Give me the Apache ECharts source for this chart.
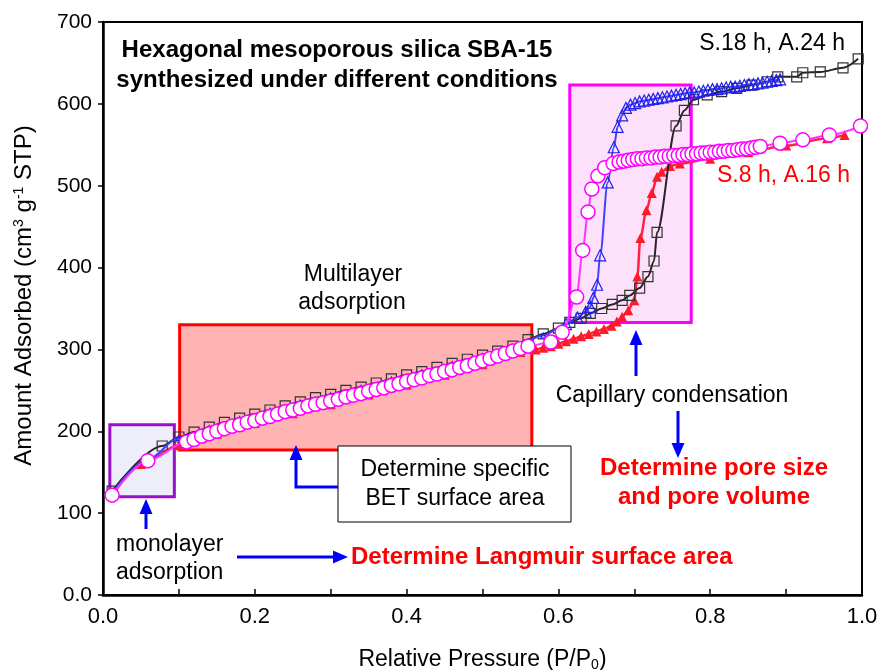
<!DOCTYPE html>
<html><head><meta charset="utf-8">
<script src="https://cdn.jsdelivr.net/npm/echarts@6/dist/echarts.min.js"></script>
<style>html,body{margin:0;padding:0;background:#fff}#c{width:887px;height:670px}</style>
</head><body><div id="c"></div>
<script>
// ---- Data (x = P/P0, y = cm3/g STP) ----
const s18Adsorption = [[0.012,127],[0.078,182],[0.10,193],[0.12,199],[0.14,205],[0.16,211],[0.18,216],[0.20,221],[0.22,226],[0.24,231],[0.26,236],[0.28,241],[0.30,245],[0.32,250],[0.34,254],[0.36,259],[0.38,264],[0.40,269],[0.42,273],[0.44,278],[0.46,283],[0.48,288],[0.50,293],[0.52,298],[0.54,304],[0.56,312],[0.58,319],[0.60,326],[0.615,333],[0.63,338],[0.642,344],[0.657,350],[0.671,355],[0.684,360],[0.694,366],[0.707,375],[0.718,389],[0.726,408],[0.730,443],[0.755,573],[0.766,592],[0.778,605],[0.796,611],[0.815,615],[0.835,619],[0.855,623],[0.875,627],[0.889,633],[0.914,633],[0.922,638],[0.945,639],[0.975,644],[0.995,655]];
const s18Desorption = [[0.012,125],[0.06,166],[0.10,192],[0.14,204],[0.18,215],[0.22,225],[0.26,235],[0.30,244],[0.34,253],[0.38,263],[0.42,272],[0.46,282],[0.50,292],[0.54,303],[0.58,317],[0.61,331],[0.625,339],[0.636,346],[0.642,352],[0.646,363],[0.651,379],[0.655,415],[0.665,504],[0.673,547],[0.678,572],[0.684,586],[0.689,595],[0.695,599],[0.701,601],[0.707,603],[0.713,604],[0.719,605],[0.725,606],[0.731,607],[0.737,608],[0.743,609],[0.749,610],[0.755,611],[0.761,612],[0.767,613],[0.773,614],[0.779,614],[0.785,615],[0.791,616],[0.797,617],[0.803,618],[0.809,618],[0.815,619],[0.821,620],[0.827,621],[0.833,621],[0.839,622],[0.845,623],[0.851,624],[0.857,624],[0.863,625],[0.869,626],[0.875,627],[0.881,628],[0.887,629],[0.892,630]];
const s8Desorption = [[0.012,122],[0.059,164],[0.11,187],[0.12,190],[0.13,194],[0.14,197],[0.15,200],[0.16,203],[0.17,206],[0.18,208],[0.19,211],[0.20,213],[0.21,216],[0.22,218],[0.23,221],[0.24,224],[0.25,226],[0.26,228],[0.27,231],[0.28,233],[0.29,235],[0.30,237],[0.31,239],[0.32,242],[0.33,244],[0.34,246],[0.35,249],[0.36,251],[0.37,253],[0.38,256],[0.39,258],[0.40,261],[0.41,263],[0.42,265],[0.43,268],[0.44,270],[0.45,273],[0.46,275],[0.47,278],[0.48,280],[0.49,283],[0.50,286],[0.51,289],[0.52,292],[0.53,295],[0.54,298],[0.55,301],[0.56,304],[0.59,309],[0.605,321],[0.624,364],[0.632,421],[0.639,468],[0.644,496],[0.652,512],[0.661,522],[0.672,527],[0.680,529],[0.686,530],[0.692,531],[0.698,532],[0.704,533],[0.710,533],[0.716,534],[0.722,534],[0.728,535],[0.734,535],[0.740,536],[0.746,536],[0.752,537],[0.758,537],[0.764,538],[0.770,538],[0.776,539],[0.782,539],[0.788,540],[0.794,540],[0.800,541],[0.806,541],[0.812,542],[0.818,542],[0.824,543],[0.830,543],[0.836,544],[0.842,545],[0.848,545],[0.854,546],[0.860,547],[0.866,548],[0.892,552],[0.922,556],[0.957,562],[0.998,573]];
const s8Adsorption = [[0.012,121],[0.05,160],[0.10,183],[0.15,197],[0.20,210],[0.25,222],[0.30,233],[0.35,245],[0.40,257],[0.45,269],[0.50,282],[0.55,297],[0.57,300],[0.58,302],[0.59,304],[0.60,307],[0.61,310],[0.62,313],[0.63,316],[0.64,319],[0.65,322],[0.66,325],[0.67,329],[0.677,334],[0.684,340],[0.692,348],[0.700,360],[0.704,389],[0.708,436],[0.716,470],[0.723,491],[0.730,511],[0.736,517],[0.747,524],[0.76,527],[0.80,533],[0.85,541],[0.90,549],[0.954,558],[0.977,562]];
const yTicks = [0, 100, 200, 300, 400, 500, 600, 700];
const xTicks = [0, 0.2, 0.4, 0.6, 0.8, 1.0];
// annotation regions [x1, y1, x2, y2] in data units
const monolayerBox = [0.009, 120, 0.094, 208];
const multilayerBox = [0.101, 177, 0.565, 330];
const capillaryBox = [0.615, 333, 0.775, 623];

const FONT = '"Liberation Sans", Arial, sans-serif';
const chart = echarts.init(document.getElementById('c'), null, {renderer: 'canvas'});

function arrowHead(tx, ty, dir) {
  const L = 15, W = 6.5; let pts;
  if (dir === 'up') pts = [[tx, ty], [tx - W, ty + L], [tx + W, ty + L]];
  else if (dir === 'down') pts = [[tx, ty], [tx - W, ty - L], [tx + W, ty - L]];
  else pts = [[tx, ty], [tx - L, ty - W], [tx - L, ty + W]];
  return {type: 'polygon', z: 100, shape: {points: pts}, style: {fill: '#0000ff'}};
}
function seg(x1, y1, x2, y2) {
  return {type: 'line', z: 100, shape: {x1, y1, x2, y2}, style: {stroke: '#0000ff', lineWidth: 3}};
}
function txt(text, x, y, opts) {
  opts = opts || {};
  return {type: 'text', z: 101, style: Object.assign({
    text, x, y, fill: opts.fill || '#000',
    font: (opts.bold ? 'bold ' : '') + (opts.size || 23) + 'px ' + FONT,
    align: opts.align || 'center', textAlign: opts.align || 'center',
    verticalAlign: 'middle', textVerticalAlign: 'middle'
  })};
}
function area(b, fill, border) {
  return [{xAxis: b[0], yAxis: b[1], itemStyle: {color: fill, borderColor: border, borderWidth: 3}}, {xAxis: b[2], yAxis: b[3]}];
}

const option = {
  animation: false,
  backgroundColor: '#fff',
  grid: {left: 103, right: 25, top: 22, bottom: 75, containLabel: false, outerBoundsMode: 'none',
    show: true, borderColor: '#000', borderWidth: 2, backgroundColor: 'transparent'},
  xAxis: {
    type: 'value', min: 0, max: 1, interval: 0.1,
    name: 'Relative Pressure (P/P{sub|0})', nameLocation: 'middle', nameGap: 53,
    nameTextStyle: {fontFamily: FONT, fontSize: 23, color: '#000', rich: {sub: {fontFamily: FONT, fontSize: 14, color: '#000', padding: [10, 0, 0, 0]}}},
    axisLine: {lineStyle: {color: '#000', width: 2.5}},
    axisTick: {inside: true, length: 6, lineStyle: {color: '#000', width: 1.5}},
    splitLine: {show: false},
    axisLabel: {fontFamily: FONT, fontSize: 22, color: '#000', margin: 11,
      formatter: v => { const k = Math.round(v * 10); return xTicks.some(t => Math.round(t * 10) === k) ? (k / 10).toFixed(1) : ''; }}
  },
  yAxis: {
    type: 'value', min: 0, max: 700, interval: 100,
    name: 'Amount Adsorbed (cm{sup|3} g{sup|-1} STP)', nameLocation: 'middle', nameGap: 66, nameRotate: 90,
    nameTextStyle: {fontFamily: FONT, fontSize: 24, color: '#000', padding: [0, 0, 0, 26], rich: {sup: {fontFamily: FONT, fontSize: 14, color: '#000', padding: [0, 0, 11, 0]}}},
    axisLine: {show: true, lineStyle: {color: '#000', width: 2.5}},
    axisTick: {show: true, inside: false, length: 5, lineStyle: {color: '#000', width: 1.5}},
    splitLine: {show: false},
    axisLabel: {fontFamily: FONT, fontSize: 21, color: '#000', margin: 11,
      formatter: v => yTicks.includes(v) ? (v === 0 ? '0.0' : String(v)) : ''}
  },
  series: [
    {type: 'line', data: [], z: 1, silent: true,
      markArea: {silent: true, label: {show: false}, data: [
        area(monolayerBox, '#eeeefb', '#9a10c8'),
        area(multilayerBox, '#ffb3b3', '#ff0000'),
        area(capillaryBox, 'rgba(250,170,240,0.35)', '#ff00ff')
      ]}},
    {type: 'line', name: 'S.8 h, A.16 h adsorption', data: s8Adsorption, z: 3, showAllSymbol: true,
      smooth: 0.3, smoothMonotone: 'x', symbol: 'triangle', symbolSize: 10,
      lineStyle: {color: '#ff2244', width: 2.5}, itemStyle: {color: '#ff1a2a', borderColor: '#ff1a2a', borderWidth: 0}},
    {type: 'line', name: 'S.18 h, A.24 h adsorption', data: s18Adsorption, z: 4, showAllSymbol: true,
      smooth: 0.3, smoothMonotone: 'x', symbol: 'rect', symbolSize: 10,
      lineStyle: {color: '#2b2129', width: 2}, itemStyle: {color: 'rgba(255,255,255,0)', borderColor: '#333', borderWidth: 1.2}},
    {type: 'line', name: 'S.18 h, A.24 h desorption', data: s18Desorption, z: 5, showAllSymbol: true,
      smooth: 0.3, smoothMonotone: 'x', symbol: 'triangle', symbolSize: v => v[0] < 0.6 ? 5 : 11,
      lineStyle: {color: '#4040ff', width: 2}, itemStyle: {color: 'rgba(255,255,255,0)', borderColor: '#2020ee', borderWidth: 1.2}},
    {type: 'line', name: 'S.8 h, A.16 h desorption', data: s8Desorption, z: 6, showAllSymbol: true,
      smooth: 0.3, smoothMonotone: 'x', symbol: 'circle', symbolSize: 14,
      lineStyle: {color: '#ff33ff', width: 2}, itemStyle: {color: '#fff', borderColor: '#ff00ff', borderWidth: 1.5}}
  ],
  graphic: {elements: [
    txt('Hexagonal mesoporous silica SBA-15', 337, 50, {bold: true, size: 24}),
    txt('synthesized under different conditions', 337, 80, {bold: true, size: 24}),
    txt('S.18 h, A.24 h', 845, 44, {align: 'right'}),
    txt('S.8 h, A.16 h', 850, 176, {align: 'right', fill: '#ff0000'}),
    txt('Multilayer', 353, 275),
    txt('adsorption', 352, 303),
    txt('monolayer', 116, 545, {align: 'left'}),
    txt('adsorption', 116, 573, {align: 'left'}),
    txt('Determine Langmuir surface area', 351, 557, {align: 'left', bold: true, size: 24, fill: '#ff0000'}),
    {type: 'rect', z: 100, shape: {x: 338, y: 446, width: 233, height: 76}, style: {fill: '#fff', stroke: '#000', lineWidth: 1}},
    txt('Determine specific', 455, 470),
    txt('BET surface area', 455, 499),
    txt('Capillary condensation', 672, 396),
    txt('Determine pore size', 714, 468, {bold: true, size: 24, fill: '#ff0000'}),
    txt('and pore volume', 714, 497, {bold: true, size: 24, fill: '#ff0000'}),
    seg(146, 529, 146, 512), arrowHead(146, 499, 'up'),
    seg(237, 557, 334, 557), arrowHead(348, 557, 'right'),
    {type: 'polyline', z: 100, shape: {points: [[338, 487], [296, 487], [296, 458]]}, style: {stroke: '#0000ff', lineWidth: 3, fill: null}},
    arrowHead(296, 445, 'up'),
    seg(636, 376, 636, 343), arrowHead(636, 330, 'up'),
    seg(678, 411, 678, 444), arrowHead(678, 458, 'down')
  ]}
};
chart.setOption(option);
</script></body></html>
